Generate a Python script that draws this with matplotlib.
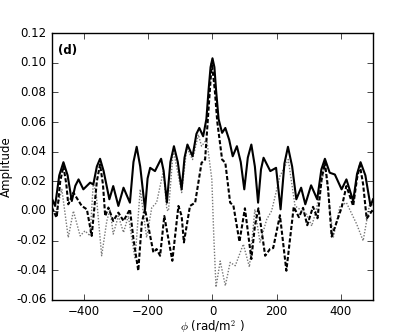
import matplotlib
matplotlib.use('Agg')
import matplotlib.pyplot as plt
import numpy as np

# amplitude (solid)
amp_x = [-499, -490, -477, -464, -451, -438, -427, -417, -402, -381, -371, -360, -350, -339, -321,
         -309, -293, -277, -257, -246, -236, -225, -210, -202, -194, -179, -160, -152, -142, -131,
         -120, -108, -96, -87, -78, -62, -50, -41, -29, -19, -12, -6, 0, 6, 11, 19,
         30, 40, 52, 63, 76, 88, 99, 110, 121, 132, 142, 151, 159, 180, 198, 212, 224, 235,
         248, 261, 276, 289, 307, 326, 339, 350, 365, 381, 402, 417, 438, 450, 461, 476, 492, 500]
amp_y = [0.0079, 0.0034, 0.024, 0.0329, 0.024, 0.0067, 0.017, 0.0213, 0.0146, 0.0191, 0.0179,
         0.030, 0.0352, 0.027, 0.0079, 0.0168, 0.0034, 0.0157, 0.0056, 0.033, 0.0433, 0.030,
         0.0010, 0.022, 0.0291, 0.0269, 0.0352, 0.027, 0.0056, 0.033, 0.0437, 0.033, 0.0146,
         0.036, 0.0448, 0.0369, 0.052, 0.0560, 0.0504, 0.062, 0.082, 0.097, 0.103, 0.097,
         0.082, 0.062, 0.0527, 0.0560, 0.048, 0.0369, 0.0437, 0.033, 0.0146, 0.036, 0.0448,
         0.030, 0.0056, 0.028, 0.0359, 0.0269, 0.0291, 0.0011, 0.032, 0.0433, 0.030, 0.0079,
         0.0157, 0.0045, 0.0173, 0.0079, 0.028, 0.0352, 0.0258, 0.0246, 0.0146, 0.0213, 0.0067,
         0.025, 0.0329, 0.024, 0.0034, 0.0079]

# real part (dashed)
re_x = [-500, -485, -474, -464, -455, -449, -433, -407, -391, -376, -360, -350, -341, -334, -324,
        -309, -293, -277, -257, -246, -231, -220, -210, -194, -184, -174, -163, -150, -125, -106,
        -96, -89, -70, -54, -34, -23, -15, -8, -2, 7, 15, 18, 30, 40, 55, 65, 84, 101, 121,
        132, 143, 164, 179, 189, 210, 230, 253, 269, 282, 295, 313, 327, 340, 350, 360, 371,
        386, 402, 417, 438, 450, 459, 469, 480, 500]
re_y = [0.0023, -0.0044, 0.020, 0.0302, 0.018, 0.0045, 0.0124, 0.0034, 0.0011, -0.0168, 0.020,
        0.0314, 0.018, -0.0034, 0.0023, -0.0067, -0.0011, -0.0067, 0.0011, -0.0190, -0.0403,
        -0.0078, 0.0011, -0.0168, -0.0279, -0.0257, -0.0302, -0.0034, -0.0336, 0.0034, -0.0034,
        -0.0212, 0.0034, 0.0056, 0.0325, 0.0347, 0.060, 0.082, 0.0997, 0.082, 0.060, 0.0549,
        0.0347, 0.0325, 0.0056, 0.0038, -0.0207, 0.0018, -0.0324, -0.0101, 0.0018, -0.0302,
        -0.0257, -0.0250, -0.0029, -0.0403, 0.0028, -0.0042, 0.0021, -0.0096, 0.0028, -0.0049,
        0.022, 0.0327, 0.015, -0.0173, -0.0078, 0.0023, 0.0168, 0.0034, 0.022, 0.0307, 0.018,
        -0.0052, 0.0011]

# imaginary part (dotted)
im_x = [-499, -490, -469, -449, -433, -412, -397, -381, -371, -362, -345, -329, -319, -309,
        -293, -277, -262, -241, -225, -205, -189, -174, -153, -142, -137, -122, -96, -80, -62,
        -44, -34, -18, -2, 4, 11, 24, 40, 55, 71, 96, 115, 132, 148, 169, 184, 210, 236, 257,
        272, 293, 309, 322, 350, 376, 397, 417, 449, 469, 490, 500]
im_y = [0.0025, -0.0034, 0.0146, -0.0179, 0.0000, -0.0168, -0.0134, -0.0168, 0.0191, 0.0112,
        -0.0302, -0.0067, 0.0011, -0.0156, -0.0034, -0.0145, -0.0034, -0.0324, 0.0146, -0.0179,
        0.0023, 0.0056, 0.0269, 0.0008, 0.0000, 0.0414, 0.0124, 0.0426, 0.0347, 0.0515, 0.0437,
        0.0482, 0.0213, -0.0168, -0.0514, -0.0338, -0.0504, -0.0347, -0.0369, -0.0224, -0.0378,
        0.0011, -0.0212, -0.0056, 0.0000, 0.0235, 0.0347, 0.0034, 0.0011, -0.0022, -0.0101,
        -0.0002, 0.0302, -0.0179, 0.0034, 0.0056, -0.0089, -0.0201, 0.0056, 0.0034]

plt.style.use('classic')
plt.rcParams['font.family'] = ['DejaVu Sans']
plt.rcParams['font.size'] = 8.5

fig = plt.figure(figsize=(4.15, 3.34), dpi=100, facecolor='white')
ax = fig.add_axes([0.125, 0.102, 0.774, 0.799])

ax.plot(im_x, im_y, color='#777777', linestyle=(0, (1, 1.2)), linewidth=1.0)
ax.plot(re_x, re_y, color='black', linestyle=(0, (3, 1.5)), linewidth=1.5)
ax.plot(amp_x, amp_y, color='black', linestyle='-', linewidth=1.5)

ax.set_xlim(-500, 500)
ax.set_ylim(-0.06, 0.12)
ax.set_xticks([-400, -200, 0, 200, 400])
ax.set_yticks(np.arange(-0.06, 0.121, 0.02))
ax.yaxis.set_major_formatter(matplotlib.ticker.FormatStrFormatter('%.2f'))
ax.tick_params(labelsize=8.5)
ax.set_xlabel(r'$\phi$ (rad/m$^2$ )', fontsize=8.5, labelpad=0)
ax.set_ylabel('Amplitude', fontsize=8.5, labelpad=2)
ax.text(0.02, 0.96, '(d)', transform=ax.transAxes, fontsize=8.5, fontweight='bold',
        va='top', ha='left')

fig.savefig('out.png', dpi=100, facecolor='white')
